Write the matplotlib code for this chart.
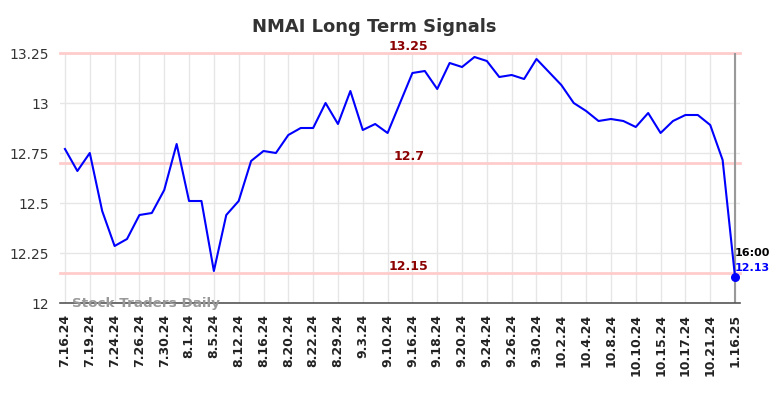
import matplotlib.pyplot as plt

dates = [
    "7.16.24", "7.18.24", "7.19.24", "7.23.24", "7.24.24", "7.25.24", "7.26.24",
    "7.29.24", "7.30.24", "7.31.24", "8.1.24", "8.2.24", "8.5.24", "8.9.24",
    "8.12.24", "8.14.24", "8.16.24", "8.19.24", "8.20.24", "8.21.24", "8.22.24",
    "8.27.24", "8.29.24", "8.30.24", "9.3.24", "9.6.24", "9.10.24", "9.12.24",
    "9.16.24", "9.17.24", "9.18.24", "9.19.24", "9.20.24", "9.23.24", "9.24.24",
    "9.25.24", "9.26.24", "9.27.24", "9.30.24", "10.1.24", "10.2.24", "10.3.24",
    "10.4.24", "10.7.24", "10.8.24", "10.9.24", "10.10.24", "10.14.24", "10.15.24",
    "10.16.24", "10.17.24", "10.18.24", "10.21.24", "10.22.24", "1.16.25",
]
prices = [
    12.77, 12.66, 12.75, 12.46, 12.285, 12.32, 12.44, 12.45, 12.565, 12.795,
    12.51, 12.51, 12.16, 12.44, 12.51, 12.71, 12.76, 12.75, 12.84, 12.875,
    12.875, 13.0, 12.895, 13.06, 12.865, 12.895, 12.85, 13.0, 13.15, 13.16,
    13.07, 13.2, 13.18, 13.23, 13.21, 13.13, 13.14, 13.12, 13.22, 13.155,
    13.09, 13.0, 12.96, 12.91, 12.92, 12.91, 12.88, 12.95, 12.85, 12.91,
    12.94, 12.94, 12.89, 12.715, 12.13,
]
signal_levels = [13.25, 12.7, 12.15]
y_ticks = [12, 12.25, 12.5, 12.75, 13, 13.25]
y_tick_labels = ["12", "12.25", "12.5", "12.75", "13", "13.25"]

fig = plt.figure(figsize=(7.84, 3.98), dpi=100)
ax = fig.add_axes([60 / 784, 1 - 303 / 398, 680 / 784, 250 / 398])

x = list(range(len(prices)))
last = x[-1]

for level in signal_levels:
    ax.axhline(level, color="#ffcccc", linewidth=2, zorder=1, clip_on=False)
    ax.text(27.7, level + 0.002, f"{level:g}", color="#8b0000", fontsize=9,
            fontweight="bold", ha="center", va="bottom", zorder=4)

ax.plot(x, prices, color="blue", linewidth=1.5, zorder=3)
ax.scatter([last], [prices[-1]], color="blue", s=30, zorder=4, clip_on=False)
ax.axvline(last, color="#999999", linewidth=1.5, zorder=2)

ax.text(last, prices[-1] + 0.118, "16:00", color="black", fontsize=8,
        fontweight="bold", ha="left", va="center")
ax.text(last, prices[-1] + 0.047, f"{prices[-1]:.2f}", color="blue", fontsize=8,
        fontweight="bold", ha="left", va="center")

ax.text(0.6, 12.0, "Stock Traders Daily", color="#999999", fontsize=9.7,
        fontweight="bold", ha="left", va="center", zorder=5)

ax.set_xlim(-0.4, 54.4)
ax.set_ylim(12, 13.25)
ax.set_xticks(x[::2])
ax.set_xticklabels(dates[::2], rotation=90, fontsize=9, fontweight="bold",
                   color="#222222")
ax.set_yticks(y_ticks)
ax.set_yticklabels(y_tick_labels, fontsize=10, color="#333333")
ax.tick_params(length=0, pad=8)
ax.grid(True, color="#e6e6e6", linewidth=1, zorder=0)
ax.set_axisbelow(True)
for side in ["left", "right", "top"]:
    ax.spines[side].set_visible(False)
ax.spines["bottom"].set_color("#555555")
ax.spines["bottom"].set_linewidth(1.2)

fig.suptitle("NMAI Long Term Signals", x=0.477, y=0.955, fontsize=13,
             fontweight="bold", color="#333333")

fig.savefig("out.png", dpi=100)
